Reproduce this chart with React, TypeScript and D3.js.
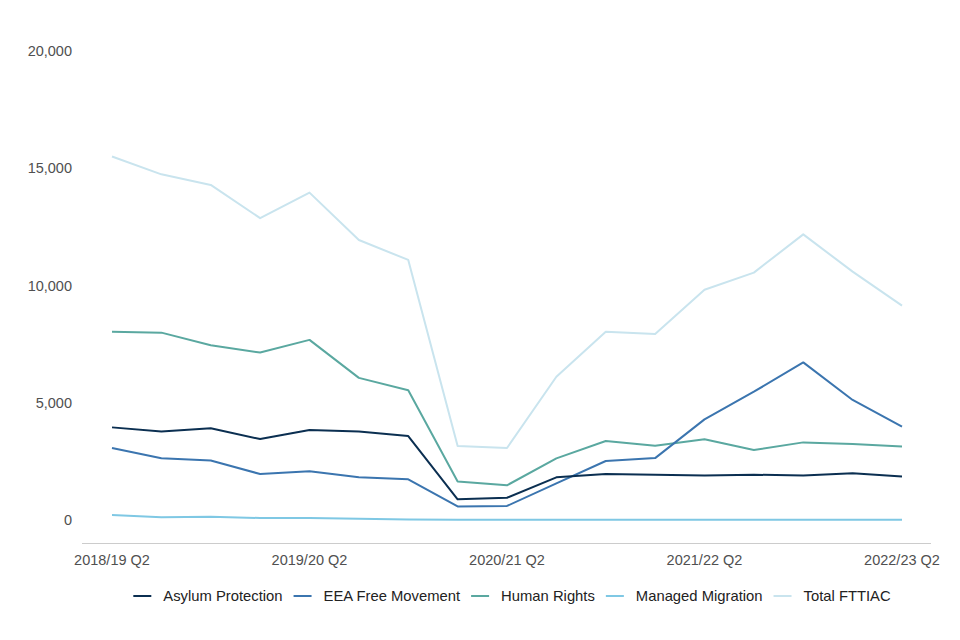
import React, { useEffect, useRef } from 'react';
import * as d3 from 'd3';

const quarters = [
  '2018/19 Q2', '2018/19 Q3', '2018/19 Q4',
  '2019/20 Q1', '2019/20 Q2', '2019/20 Q3', '2019/20 Q4',
  '2020/21 Q1', '2020/21 Q2', '2020/21 Q3', '2020/21 Q4',
  '2021/22 Q1', '2021/22 Q2', '2021/22 Q3', '2021/22 Q4',
  '2022/23 Q1', '2022/23 Q2',
];

const tickLabels = ['2018/19 Q2', '2019/20 Q2', '2020/21 Q2', '2021/22 Q2', '2022/23 Q2'];
const yTicks = [0, 5000, 10000, 15000, 20000];

const asylumProtection = [3950, 3770, 3910, 3450, 3840, 3770, 3580, 880, 950, 1820, 1960, 1930, 1900, 1930, 1900, 1990, 1850];
const eeaFreeMovement = [3070, 2630, 2540, 1960, 2080, 1820, 1735, 580, 600, 1560, 2515, 2640, 4290, 5470, 6720, 5120, 3980];
const humanRights = [8030, 7990, 7450, 7140, 7680, 6060, 5530, 1640, 1480, 2630, 3370, 3170, 3440, 2985, 3310, 3240, 3130];
const managedMigration = [213, 115, 140, 85, 85, 50, 20, 15, 12, 12, 10, 10, 10, 10, 10, 8, 8];
const totalFttiac = [15500, 14740, 14290, 12870, 13960, 11940, 11090, 3155, 3070, 6110, 8030, 7930, 9820, 10550, 12180, 10590, 9140];

const seriesNames = ['Asylum Protection', 'EEA Free Movement', 'Human Rights', 'Managed Migration', 'Total FTTIAC'];
const seriesColors = ['#0b2f51', '#3b75af', '#5aa8a0', '#7fc8e4', '#c9e4ee'];
const seriesValues = [asylumProtection, eeaFreeMovement, humanRights, managedMigration, totalFttiac];

const FONT = '"Liberation Sans", Arial, Helvetica, sans-serif';

const Chart: React.FC = () => {
  const ref = useRef<SVGSVGElement>(null);

  useEffect(() => {
    if (!ref.current) return;
    const svg = d3.select(ref.current);
    svg.selectAll('*').remove();

    const x = d3.scalePoint<string>().domain(quarters).range([112, 902]);
    const y = d3.scaleLinear().domain([0, 20000]).range([520, 51]);

    // y labels, no axis line
    svg
      .append('g')
      .selectAll('text')
      .data(yTicks)
      .enter()
      .append('text')
      .attr('x', 72)
      .attr('y', (d) => y(d))
      .attr('dy', '0.35em')
      .attr('text-anchor', 'end')
      .style('font-family', FONT)
      .style('font-size', '14.5px')
      .style('fill', '#505050')
      .text((d) => d3.format(',')(d));

    // x axis line
    svg
      .append('line')
      .attr('x1', 82)
      .attr('x2', 931)
      .attr('y1', 543.5)
      .attr('y2', 543.5)
      .attr('stroke', '#cccccc')
      .attr('stroke-width', 1);

    svg
      .append('g')
      .selectAll('text')
      .data(tickLabels)
      .enter()
      .append('text')
      .attr('x', (d) => x(d)!)
      .attr('y', 565)
      .attr('text-anchor', 'middle')
      .style('font-family', FONT)
      .style('font-size', '14.5px')
      .style('fill', '#505050')
      .text((d) => d);

    const line = d3
      .line<number>()
      .x((_, i) => x(quarters[i])!)
      .y((d) => y(d));

    // draw Total first so darker lines sit on top
    const order = [4, 3, 2, 1, 0];
    order.forEach((k) => {
      svg
        .append('path')
        .datum(seriesValues[k])
        .attr('d', line)
        .attr('fill', 'none')
        .attr('stroke', seriesColors[k])
        .attr('stroke-width', 2)
        .attr('stroke-linejoin', 'round');
    });

    // legend
    const legend = svg.append('g');
    let cursor = 0;
    seriesNames.forEach((name, i) => {
      const item = legend.append('g').attr('transform', `translate(${cursor},0)`);
      item
        .append('line')
        .attr('x1', 0)
        .attr('x2', 18)
        .attr('y1', 0)
        .attr('y2', 0)
        .attr('stroke', seriesColors[i])
        .attr('stroke-width', 2);
      const t = item
        .append('text')
        .attr('x', 30)
        .attr('y', 0)
        .attr('dy', '0.35em')
        .style('font-family', FONT)
        .style('font-size', '14.8px')
        .style('fill', '#222222')
        .text(name);
      const w = (t.node() as SVGTextElement).getComputedTextLength();
      cursor += 30 + w + 11;
    });
    const totalW = cursor - 11;
    legend.attr('transform', `translate(${512 - totalW / 2},596)`);
  }, []);

  return <svg ref={ref} width={960} height={640} style={{ display: 'block' }} />;
};

export default function App() {
  return (
    <div style={{ margin: -8 }}>
      <Chart />
    </div>
  );
}
